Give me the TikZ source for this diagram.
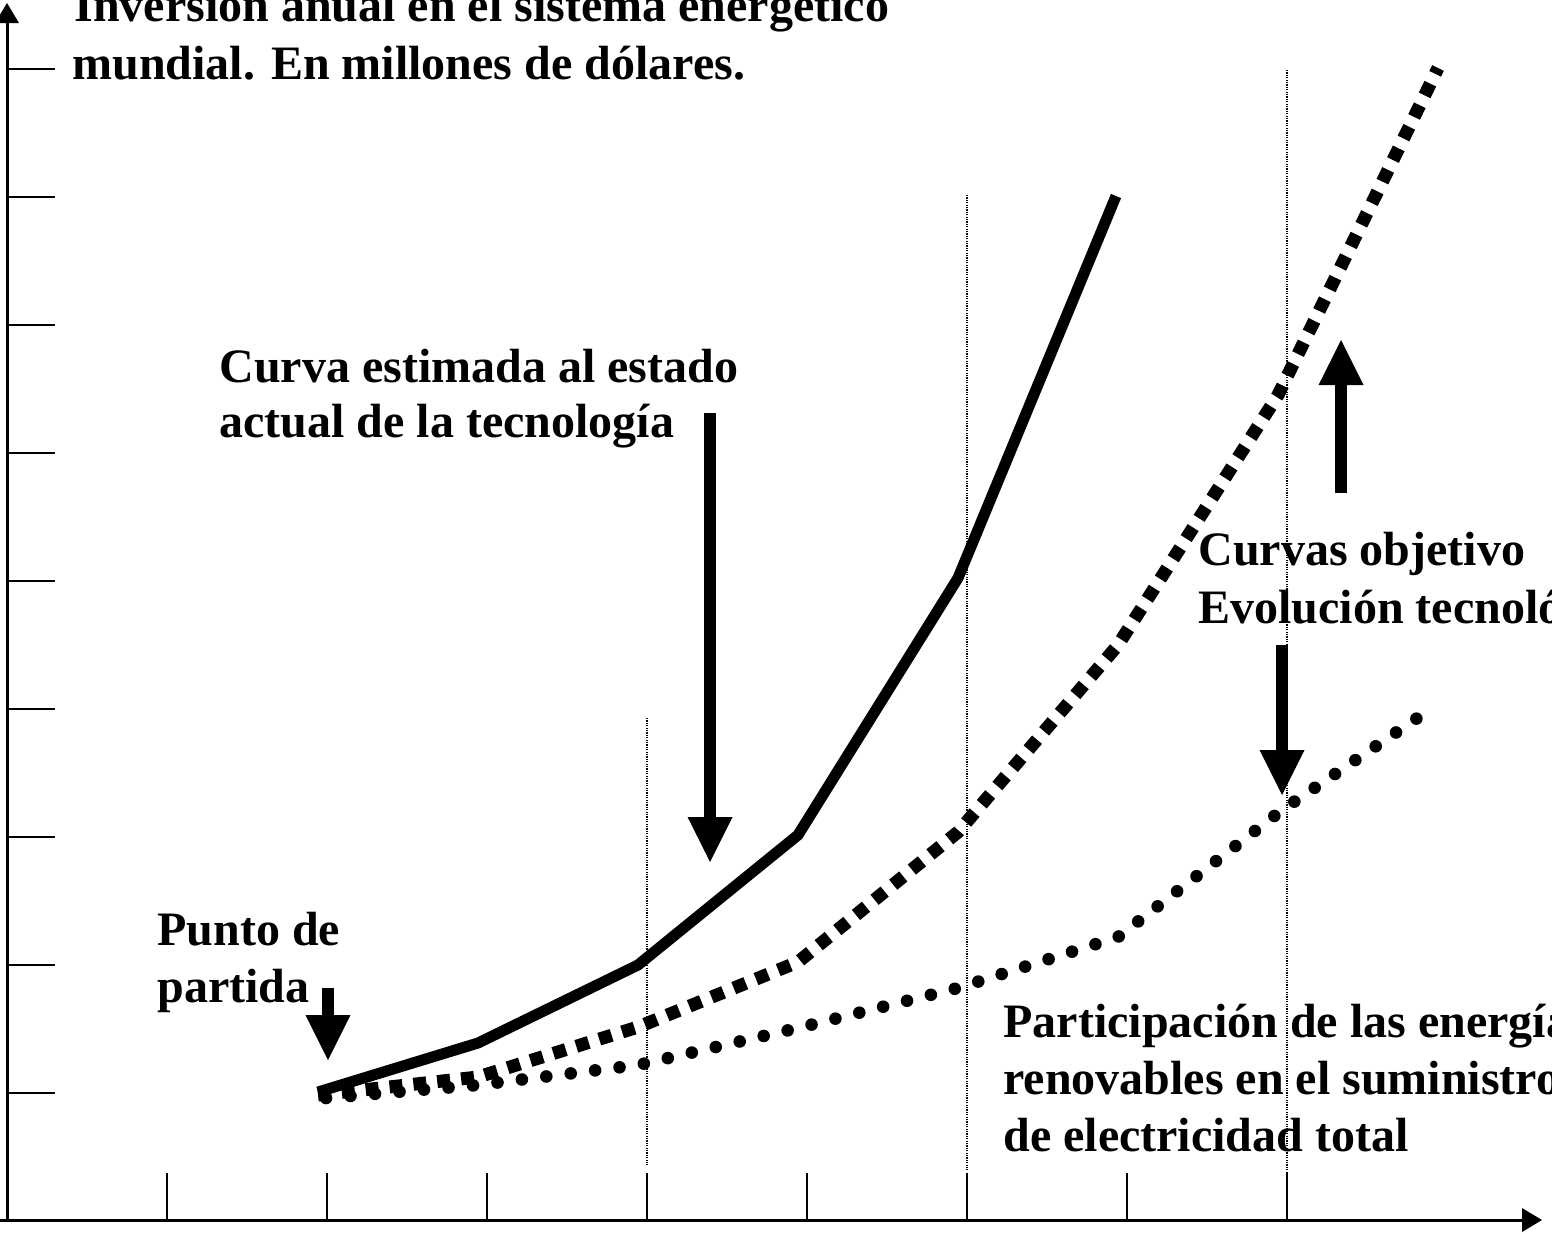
\documentclass[tikz,border=0pt]{standalone}
\usepackage{fontspec}
\setmainfont{Liberation Serif}
\usetikzlibrary{arrows.meta}
\begin{document}
\begin{tikzpicture}[x=0.5pt,y=-0.5pt,
  lbl/.style={font=\fontsize{24}{29}\selectfont\bfseries, inner sep=0pt, anchor=base west},
  axisline/.style={line width=1.5pt, -{Triangle[length=10pt,width=12pt,line width=0pt]}},
  tickline/.style={line width=1pt},
  guide/.style={line width=0.6pt, dash pattern=on 0.6pt off 0.6pt},
  actual/.style={line width=5.5pt, line join=miter},
  target/.style={line width=6.5pt, dash pattern=on 6.5pt off 5.5pt},
  share/.style={line width=6.3pt, line cap=round, dash pattern=on 0pt off 12.3pt},
  pointer/.style={line width=6pt, -{Triangle[length=22.5pt,width=22.5pt,line width=0pt]}}]

\useasboundingbox (0,0) rectangle (1552,1232);

% axes
\coordinate (O) at (7,1220);
\coordinate (ytop) at (7,3);
\coordinate (xleft) at (0,1220);
\coordinate (xend) at (1542,1220);
\draw[axisline] (xleft) -- (xend);
\draw[axisline] (O) -- (ytop);

% ticks
\foreach \y in {69,197,325,453,581,709,837,965,1093}
  \draw[tickline] (7,\y) -- (55,\y);
\foreach \x in {167,327,487,647,807,967,1127,1287}
  \draw[tickline] (\x,1173) -- (\x,1220);

% guide lines
\draw[guide] (647,718) -- (647,1165);
\draw[guide] (967,195) -- (967,1170);
\draw[guide] (1287,70) -- (1287,1172);

% curves
\draw[share] (326,1098) -- (478,1085) -- (638,1065) -- (798,1028) -- (958,988) -- (1118,937) -- (1282,810) -- (1432,708);
\draw[target] (318,1095) -- (478,1077) -- (638,1027) -- (798,962) -- (958,832) -- (1118,645) -- (1278,395) -- (1438,68);
\draw[actual] (318,1092) -- (478,1043) -- (638,965) -- (798,835) -- (958,578) -- (1116,196);

% pointer arrows
\coordinate (pA) at (328,988);
\coordinate (pB) at (328,1060);
\draw[pointer] (pA) -- (pB);
\coordinate (cA) at (710,413);
\coordinate (cB) at (710,862);
\draw[pointer] (cA) -- (cB);
\coordinate (uA) at (1341,493);
\coordinate (uB) at (1341,340);
\draw[pointer] (uA) -- (uB);
\coordinate (eA) at (1282,645);
\coordinate (eB) at (1282,795);
\draw[pointer] (eA) -- (eB);

% labels
\node[lbl] (inv1) at (74,21) {Inversión anual en el sistema energético};
\node[lbl] (inv2) at (72,79) {mundial. En millones de dólares.};
\node[lbl] (cur1) at (219,382) {Curva estimada al estado};
\node[lbl] (cur2) at (219,437) {actual de la tecnología};
\node[lbl] (pun1) at (157,945) {Punto de};
\node[lbl] (pun2) at (157,1002) {partida};
\node[lbl] (obj1) at (1198,565) {Curvas objetivo};
\node[lbl] (obj2) at (1198,623) {Evolución tecnológica};
\node[lbl] (par1) at (1003,1037) {Participación de las energías};
\node[lbl] (par2) at (1003,1094) {renovables en el suministro};
\node[lbl] (par3) at (1003,1151) {de electricidad total};
\end{tikzpicture}
\end{document}
